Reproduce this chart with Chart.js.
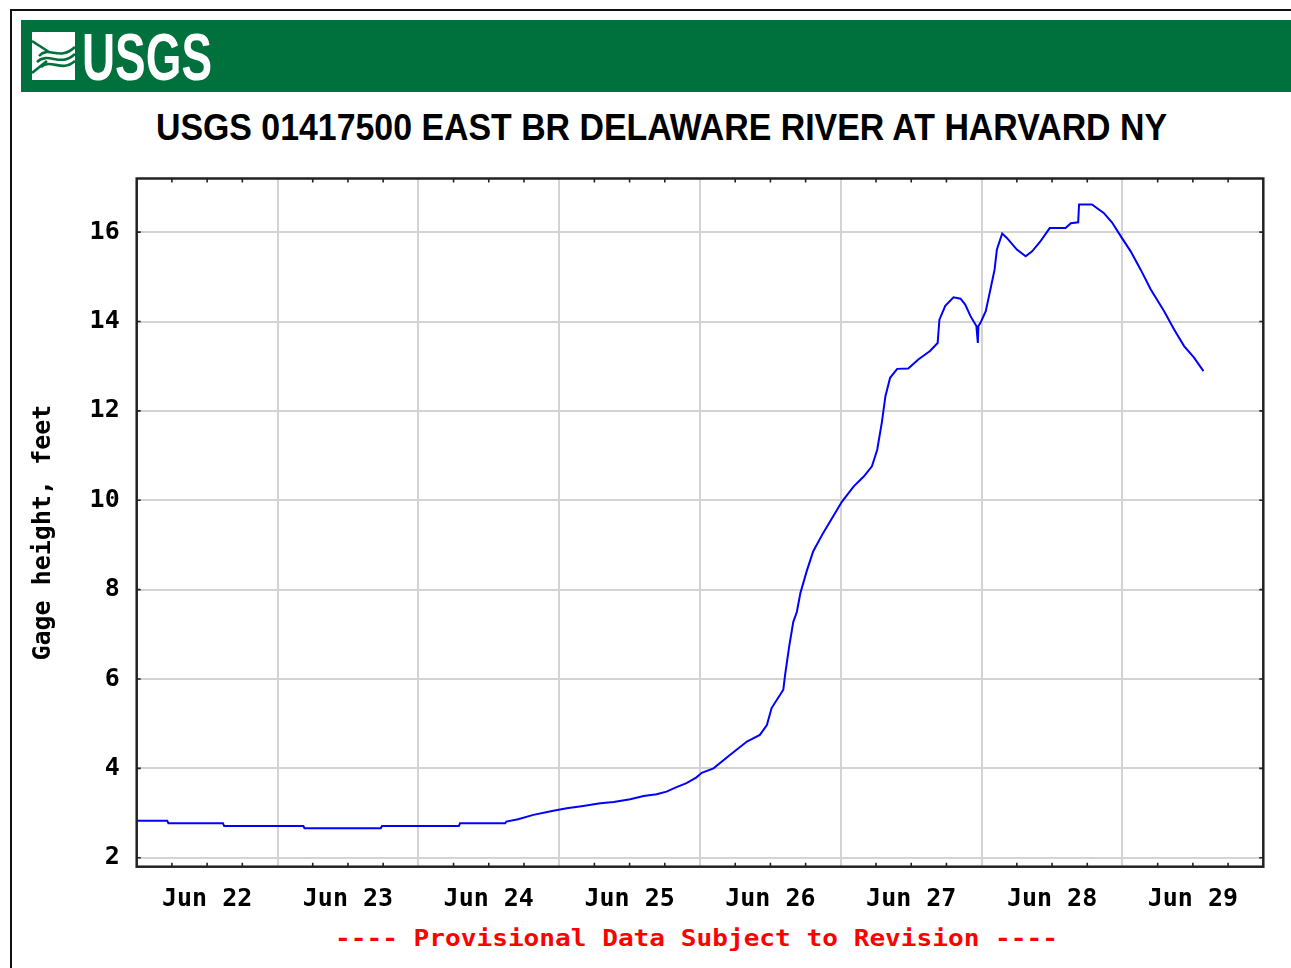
<!DOCTYPE html>
<html><head><meta charset="utf-8">
<script src="https://cdn.jsdelivr.net/npm/chart.js@4.4.1/dist/chart.umd.min.js"></script>
<style>
html,body{margin:0;padding:0;background:#fff;width:1291px;height:968px;overflow:hidden;position:relative}
#frame{position:absolute;left:10px;top:9px;width:1400px;height:1100px;border:2px solid #111;box-sizing:border-box}
#bar{position:absolute;left:21px;top:20px;width:1300px;height:72px;background:#00703c}
#icon{position:absolute;left:32px;top:32px}
.fit{position:absolute;white-space:nowrap;transform-origin:0 0}
#logo{left:82px;top:23px;font:bold 67px/67px "Liberation Sans Narrow","Liberation Sans",Arial,sans-serif;color:#fff}
#title{left:156px;top:109px;font:bold 37px/37px "Liberation Sans Narrow","Liberation Sans",sans-serif;color:#000}
#prov{left:335px;top:927px;font:bold 23px/23px "DejaVu Sans Mono",monospace;color:#f00}
#c{position:absolute;left:0;top:0}
</style></head>
<body>
<div id="frame"></div>
<div id="bar"></div>
<svg id="icon" width="43" height="48" viewBox="0 0 43 48">
  <rect x="0" y="0" width="43" height="48" fill="#fff"/>
  <g fill="none" stroke="#00703c" stroke-width="2.6">
    <path d="M0 9 L17 20"/>
    <path d="M0 41 L15 29"/>
    <path d="M7 24 C17 13, 27 30, 43 15"/>
    <path d="M5 30 C17 19, 28 36, 43 22"/>
    <path d="M9 35 C19 26, 30 41, 43 29"/>
  </g>
</svg>
<div id="logo" class="fit" data-w="130">USGS</div>
<div id="title" class="fit" data-w="1011">USGS 01417500 EAST BR DELAWARE RIVER AT HARVARD NY</div>
<div id="prov" class="fit" data-w="723">---- Provisional Data Subject to Revision ----</div>
<canvas id="c" width="1291" height="968"></canvas>
<script>
// hours since Jun 22 00:00
const hours = [0, 5.2, 5.4, 14.7, 14.9, 28.4, 28.6, 41.6, 41.8, 54.9, 55.1, 62.8, 63.0,
  65.0, 67.6, 71.0, 73.3, 76.1, 79.0, 81.3, 84.1, 86.4, 88.6, 90.3, 92.0, 93.7, 95.4,
  96.3, 98.3, 101.1, 104.0, 106.2, 107.4, 108.2, 110.2, 110.5, 111.2, 111.9, 112.5,
  113.1, 114.2, 115.3, 117.0, 118.7, 120.2, 122.2, 123.9, 125.3, 126.2, 127.0, 127.6,
  128.4, 129.6, 131.5, 133.2, 135.2, 136.5, 136.8, 137.8, 139.2, 140.4, 141.2, 142.1,
  143.1, 143.35, 143.45, 143.8, 144.7, 145.5, 146.2, 146.6, 147.5, 148.3, 150.0, 151.5,
  152.6, 154.0, 155.6, 158.3, 159.2, 160.45, 160.6, 162.8, 164.8, 166.2, 167.7, 169.4,
  171.1, 172.8, 175.1, 176.8, 178.5, 180.2, 181.8];
const gage = [2.83, 2.83, 2.77, 2.77, 2.71, 2.71, 2.66, 2.66, 2.71, 2.71, 2.77, 2.77, 2.81,
  2.86, 2.96, 3.05, 3.11, 3.16, 3.22, 3.25, 3.31, 3.38, 3.42, 3.48, 3.58, 3.67, 3.80,
  3.90, 4.00, 4.30, 4.60, 4.75, 4.97, 5.35, 5.76, 6.09, 6.73, 7.28, 7.50,
  7.92, 8.42, 8.86, 9.27, 9.64, 9.97, 10.31, 10.53, 10.76, 11.13, 11.75, 12.33,
  12.74, 12.94, 12.95, 13.15, 13.34, 13.52, 14.04, 14.35, 14.54, 14.51, 14.38, 14.12,
  13.90, 13.52, 13.90, 13.97, 14.23, 14.72, 15.16, 15.61, 15.97, 15.87, 15.61, 15.46,
  15.57, 15.79, 16.09, 16.09, 16.20, 16.22, 16.62, 16.62, 16.43, 16.22, 15.91, 15.57,
  15.16, 14.72, 14.23, 13.82, 13.45, 13.19, 12.89];
const dayLabels = ['Jun 22', 'Jun 23', 'Jun 24', 'Jun 25', 'Jun 26', 'Jun 27', 'Jun 28', 'Jun 29'];
const yTickValues = [2, 4, 6, 8, 10, 12, 14, 16];
const yTitle = 'Gage height, feet';

// fit text widths
document.querySelectorAll('.fit').forEach(el => {
  const w = el.getBoundingClientRect().width;
  const target = parseFloat(el.dataset.w);
  el.style.transform = 'scaleX(' + (target / w) + ')';
});

const xTicks = [];
for (let i = 0; i <= dayLabels.length; i++) {
  xTicks.push(i * 24);
  if (i < dayLabels.length) xTicks.push(i * 24 + 12);
}

const tickFont = { family: 'DejaVu Sans Mono', weight: 'bold', size: 25 };

const framePlugin = {
  id: 'frame',
  afterDraw(chart) {
    const { ctx, chartArea: a, scales: { x, y } } = chart;
    ctx.save();
    ctx.strokeStyle = '#222';
    ctx.lineWidth = 1.6;
    ctx.beginPath();
    for (let h = 6; h < 192; h += 6) {
      if (h % 24 === 0) continue;
      const px = x.getPixelForValue(h);
      ctx.moveTo(px, a.bottom); ctx.lineTo(px, a.bottom - 4);
      ctx.moveTo(px, a.top); ctx.lineTo(px, a.top + 4);
    }
    yTickValues.forEach(v => {
      const py = y.getPixelForValue(v);
      ctx.moveTo(a.left, py); ctx.lineTo(a.left + 4, py);
      ctx.moveTo(a.right, py); ctx.lineTo(a.right - 4, py);
    });
    ctx.stroke();
    ctx.lineWidth = 2.5;
    ctx.strokeRect(a.left, a.top, a.right - a.left, a.bottom - a.top);
    // y axis title, slightly below the axis centre as in the original
    ctx.translate(50, (a.top + a.bottom) / 2 + 10);
    ctx.rotate(-Math.PI / 2);
    ctx.font = 'bold 25px "DejaVu Sans Mono"';
    ctx.fillStyle = '#000';
    ctx.textAlign = 'center';
    ctx.textBaseline = 'alphabetic';
    ctx.fillText(yTitle, 0, 0);
    ctx.restore();
  }
};

new Chart(document.getElementById('c'), {
  type: 'line',
  data: {
    datasets: [{
      data: hours.map((h, i) => ({ x: h, y: gage[i] })),
      borderColor: '#0000ff',
      borderWidth: 2,
      pointRadius: 0,
      tension: 0,
      fill: false
    }]
  },
  options: {
    responsive: false,
    animation: false,
    layout: { padding: { left: 0, top: 178.5, right: 27.7, bottom: 41.3 } },
    plugins: { legend: { display: false }, tooltip: { enabled: false } },
    scales: {
      x: {
        type: 'linear', min: 0, max: 192,
        afterBuildTicks(s) { s.ticks = xTicks.map(v => ({ value: v })); },
        afterFit(s) { s.height = 60; },
        grid: {
          color: c => (c.tick && c.tick.value % 24 === 0 && c.tick.value > 0 && c.tick.value < 192) ? '#d3d3d3' : 'rgba(0,0,0,0)',
          lineWidth: 2, drawTicks: false
        },
        border: { display: false },
        ticks: {
          autoSkip: false, maxRotation: 0, minRotation: 0, padding: 18, color: '#000', font: tickFont,
          callback: v => (v % 24 === 12 ? dayLabels[(v - 12) / 24] : '')
        }
      },
      y: {
        min: 1.8, max: 17.2,
        afterBuildTicks(s) { s.ticks = yTickValues.map(v => ({ value: v })); },
        afterFit(s) { s.width = 136.7; },
        grid: { color: '#d3d3d3', lineWidth: 2, drawTicks: false },
        border: { display: false },
        ticks: { padding: 17, color: '#000', font: tickFont, callback: v => String(v) },
        title: { display: false, text: yTitle }
      }
    }
  },
  plugins: [framePlugin]
});
</script>
</body></html>
